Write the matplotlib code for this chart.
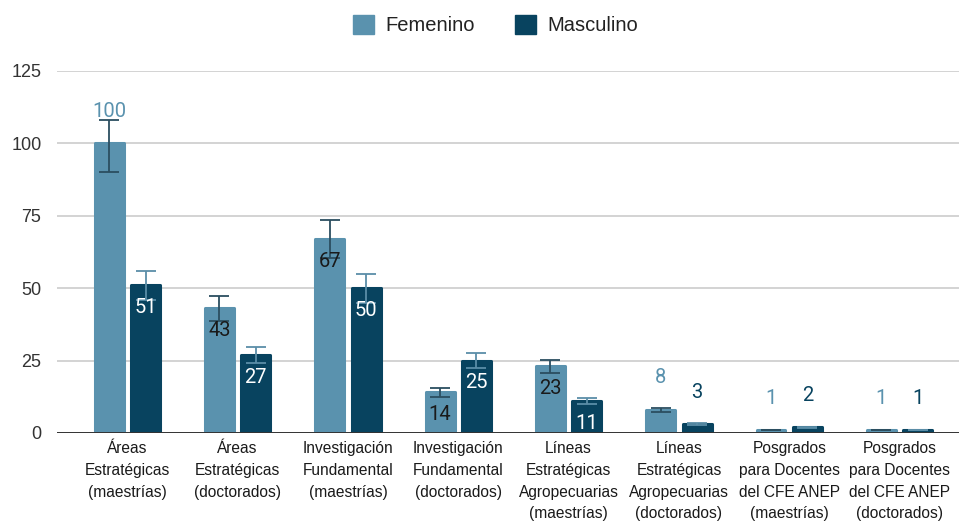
import numpy as np
import matplotlib.pyplot as plt
from matplotlib.patches import Patch

# ----- Data -----
categorias = [
    "Áreas\nEstratégicas\n(maestrías)",
    "Áreas\nEstratégicas\n(doctorados)",
    "Investigación\nFundamental\n(maestrías)",
    "Investigación\nFundamental\n(doctorados)",
    "Líneas\nEstratégicas\nAgropecuarias\n(maestrías)",
    "Líneas\nEstratégicas\nAgropecuarias\n(doctorados)",
    "Posgrados\npara Docentes\ndel CFE ANEP\n(maestrías)",
    "Posgrados\npara Docentes\ndel CFE ANEP\n(doctorados)",
]
femenino = [100, 43, 67, 14, 23, 8, 1, 1]
masculino = [51, 27, 50, 25, 11, 3, 2, 1]

# error bars (lower, upper)
fem_err_lo = [10, 4.3, 6.7, 1.4, 2.3, 0.8, 0.1, 0.1]
fem_err_hi = [8, 4.3, 6.7, 1.4, 2.3, 0.8, 0.1, 0.1]
mas_err_lo = [5.1, 2.7, 5.0, 2.5, 1.1, 0.3, 0.2, 0.1]
mas_err_hi = [5.1, 2.7, 5.0, 2.5, 1.1, 0.3, 0.2, 0.1]

# label inside the bar or above it
fem_inside = [False, True, True, True, True, False, False, False]
mas_inside = [True, True, True, True, True, False, False, False]

# ----- Style -----
c_fem = "#5a92ae"
c_mas = "#08435f"
lbl_font = "Roboto"
txt_font = "Liberation Sans"

fig = plt.figure(figsize=(9.62, 5.22), dpi=100)
ax = fig.add_axes([0.059, 0.1705, 0.938, 0.6935])

x = np.arange(len(categorias))
w = 0.262
off = 0.165

# thick round-joined edge in the same colour gives slightly rounded corners
ax.bar(x - off, femenino, w, color=c_fem, edgecolor=c_fem, linewidth=2.2,
       joinstyle="round", zorder=3)
ax.bar(x + off, masculino, w, color=c_mas, edgecolor=c_mas, linewidth=2.2,
       joinstyle="round", zorder=3)

ax.errorbar(x - off, femenino, yerr=[fem_err_lo, fem_err_hi], fmt="none",
            ecolor="#2b4e60", elinewidth=1.3, capsize=7.2, capthick=1.3, zorder=4)
ax.errorbar(x + off, masculino, yerr=[mas_err_lo, mas_err_hi], fmt="none",
            ecolor="#5b8ea8", elinewidth=1.3, capsize=7.2, capthick=1.3, zorder=4)

# value labels
for xi, v, ins in zip(x - off, femenino, fem_inside):
    if ins:
        ax.annotate(str(v), (xi, v), xytext=(0, -16), textcoords="offset points",
                    ha="center", va="center", fontsize=14.5, color="#1a1a1a",
                    family=lbl_font, zorder=5)
    else:
        ax.annotate(str(v), (xi, v), xytext=(0, 23), textcoords="offset points",
                    ha="center", va="center", fontsize=14.5, color=c_fem,
                    family=lbl_font, zorder=5)
for xi, v, ins in zip(x + off, masculino, mas_inside):
    if ins:
        ax.annotate(str(v), (xi, v), xytext=(0, -16), textcoords="offset points",
                    ha="center", va="center", fontsize=14.5, color="white",
                    family=lbl_font, zorder=5)
    else:
        ax.annotate(str(v), (xi, v), xytext=(0, 23), textcoords="offset points",
                    ha="center", va="center", fontsize=14.5, color=c_mas,
                    family=lbl_font, zorder=5)

# axes
ax.set_ylim(0, 125)
ax.set_xlim(-0.64, 7.54)
ax.set_yticks([0, 25, 50, 75, 100, 125])
ax.yaxis.grid(True, color="#cccccc", linewidth=1.2, zorder=0)
ax.axhline(0, color="#333333", linewidth=1.4, zorder=6)
for s in ax.spines.values():
    s.set_visible(False)
ax.tick_params(axis="y", length=0, pad=11, labelsize=13, labelcolor="#333333")
ax.tick_params(axis="x", length=0, pad=6)
ax.set_xticks(x)
ax.set_xticklabels(categorias, fontsize=11.2, family=txt_font, color="#1a1a1a",
                   linespacing=1.55, va="top")
for t in ax.get_yticklabels():
    t.set_family(txt_font)

# legend
handles = [Patch(color=c_fem, label="Femenino"), Patch(color=c_mas, label="Masculino")]
fig.legend(handles=handles, loc="center", bbox_to_anchor=(0.515, 0.952), ncol=2,
           frameon=False, handlelength=1.05, handleheight=1.05, handletextpad=0.55,
           columnspacing=2.0, prop={"family": txt_font, "size": 14.5},
           labelcolor="#222222")

fig.savefig("out.png", dpi=100)
